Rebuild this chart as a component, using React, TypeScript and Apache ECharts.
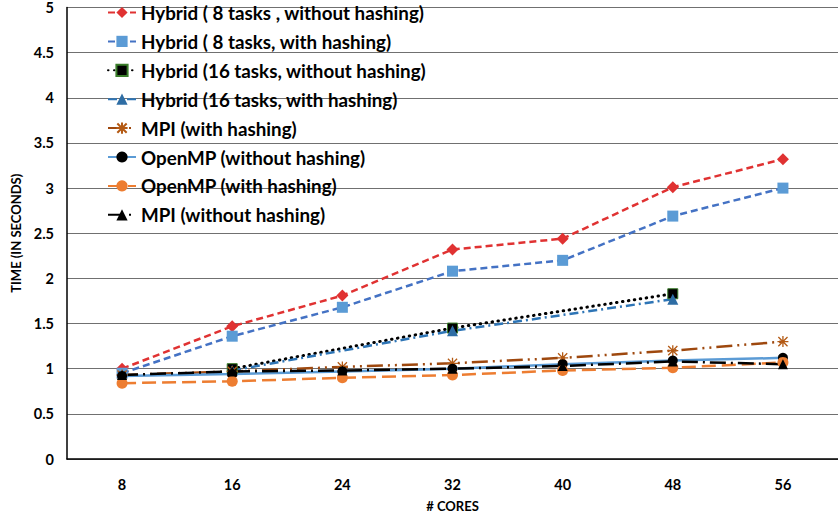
import React, { useEffect, useRef } from "react";
import * as echarts from "echarts";

const cores = ["8", "16", "24", "32", "40", "48", "56"];
const hybrid8NoHash = [1.0, 1.47, 1.81, 2.32, 2.44, 3.01, 3.32];
const hybrid8Hash = [0.95, 1.36, 1.68, 2.08, 2.2, 2.69, 3.0];
const hybrid16NoHash = [null, 1.0, null, 1.45, null, 1.83, null];
const hybrid16Hash = [null, 0.98, null, 1.42, null, 1.77, null];
const mpiHash = [0.93, 0.97, 1.02, 1.06, 1.12, 1.2, 1.3];
const openmpNoHash = [0.92, 0.94, 0.97, 1.0, 1.05, 1.09, 1.12];
const openmpHash = [0.84, 0.86, 0.9, 0.93, 0.98, 1.01, 1.07];
const mpiNoHash = [0.93, 0.97, 0.98, 1.0, 1.03, 1.08, 1.05];

const seriesNames = [
  "Hybrid ( 8 tasks , without hashing)",
  "Hybrid ( 8 tasks, with hashing)",
  "Hybrid (16 tasks, without hashing)",
  "Hybrid (16 tasks, with hashing)",
  "MPI (with hashing)",
  "OpenMP (without hashing)",
  "OpenMP (with hashing)",
  "MPI (without hashing)",
];

const FONT = "Lato";
const STAR = "path://M0,0L10,10M10,0L0,10M5,-1L5,11M-1,5L11,5";

export default function App() {
  const ref = useRef<HTMLDivElement>(null);
  useEffect(() => {
    document.body.style.margin = "0";
    const chart = echarts.init(ref.current!, null, { renderer: "svg" });
    const mk = (
      name: string,
      data: any[],
      color: string,
      dash: any,
      symbol: string,
      symbolColor: string,
      symbolSize: number,
      extra: any = {}
    ) => ({
      name,
      type: "line",
      data,
      connectNulls: true,
      symbol,
      symbolSize,
      lineStyle: { color, width: 2.5, type: dash, ...(extra.lineStyle || {}) },
      itemStyle: { color: symbolColor, ...(extra.itemStyle || {}) },
    });
    chart.setOption({
      animation: false,
      backgroundColor: "#ffffff",
      textStyle: { fontFamily: FONT },
      grid: { left: 67, right: -8, top: 5, bottom: 59 },
      legend: {
        orient: "vertical",
        left: 107,
        top: 3,
        padding: 0,
        itemWidth: 28,
        itemHeight: 14,
        itemGap: 9.9,
        textStyle: {
          fontFamily: FONT,
          fontSize: 18.8,
          lineHeight: 16,
          fontWeight: "bold",
          color: "#000",
        },
        data: seriesNames,
      },
      xAxis: {
        type: "category",
        data: cores,
        name: "# CORES",
        nameLocation: "middle",
        nameGap: 40,
        nameTextStyle: { fontFamily: FONT, fontSize: 13, fontWeight: "bold", color: "#000" },
        axisLine: { lineStyle: { color: "#000", width: 1.5 } },
        axisTick: { show: false },
        axisLabel: { margin: 18, fontFamily: FONT, fontSize: 14.5, fontWeight: "bold", color: "#000" },
        splitLine: { show: false },
      },
      yAxis: {
        type: "value",
        min: 0,
        max: 5,
        interval: 0.5,
        name: "TIME (IN SECONDS)",
        nameLocation: "middle",
        nameGap: 40,
        nameTextStyle: { fontFamily: FONT, fontSize: 13, fontWeight: "bold", color: "#000" },
        axisLine: { show: true, lineStyle: { color: "#000", width: 1.5 } },
        axisTick: { show: false },
        axisLabel: { margin: 13, fontFamily: FONT, fontSize: 14.5, fontWeight: "bold", color: "#000" },
        splitLine: { lineStyle: { color: "#707070", width: 1.2 } },
      },
      series: [
        mk(seriesNames[0], hybrid8NoHash, "#E03232", [7, 4], "diamond", "#E03232", 12),
        mk(seriesNames[1], hybrid8Hash, "#4472C4", [7, 4], "rect", "#5B9BD5", 11),
        mk(seriesNames[2], hybrid16NoHash, "#000000", [0.5, 5.5], "rect", "#000000", 10, {
          lineStyle: { cap: "round", width: 3 },
          itemStyle: { borderColor: "#3a7d2a", borderWidth: 1 },
        }),
        mk(seriesNames[3], hybrid16Hash, "#2E75B6", [9, 4, 2, 4], "triangle", "#2E6DA4", 11),
        mk(seriesNames[4], mpiHash, "#9E480E", [16, 5, 2, 5, 2, 5], STAR, "rgba(0,0,0,0)", 11, {
          itemStyle: { borderColor: "#B45A14", borderWidth: 1.3 },
        }),
        mk(seriesNames[5], openmpNoHash, "#5B9BD5", "solid", "circle", "#000000", 10),
        mk(seriesNames[6], openmpHash, "#ED7D31", [14, 6], "circle", "#ED7D31", 11),
        mk(seriesNames[7], mpiNoHash, "#000000", [16, 5, 2, 5], "triangle", "#000000", 10),
      ],
    });
    return () => chart.dispose();
  }, []);
  return <div ref={ref} style={{ width: 838, height: 518 }} />;
}
